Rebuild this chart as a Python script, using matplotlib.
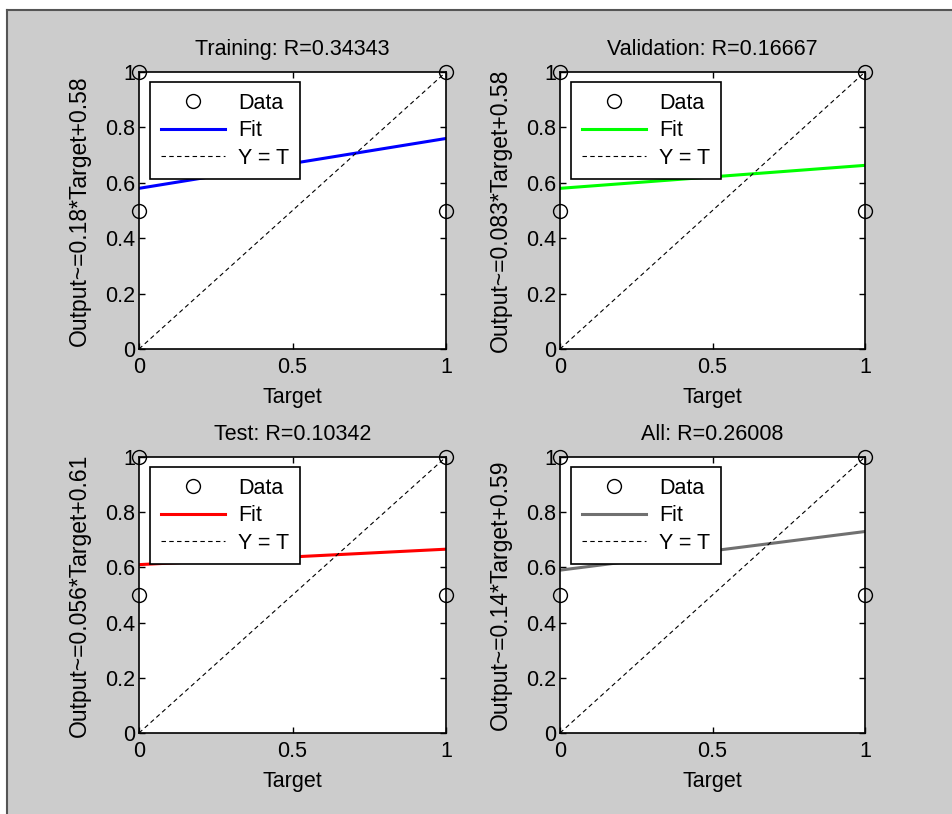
import matplotlib
matplotlib.use('Agg')
import matplotlib.pyplot as plt
import numpy as np

plt.rcParams['font.family'] = ['Liberation Sans', 'DejaVu Sans']

# regression panels: name, R value, fit slope/intercept, fit colour
names = ['Training', 'Validation', 'Test', 'All']
r_vals = ['0.34343', '0.16667', '0.10342', '0.26008']
slopes = [0.18, 0.083, 0.056, 0.14]
intercepts = [0.58, 0.58, 0.61, 0.59]
slope_lbl = ['0.18', '0.083', '0.056', '0.14']
icpt_lbl = ['0.58', '0.58', '0.61', '0.59']
colors = ['#0000ff', '#00ff00', '#ff0000', '#707070']

# targets / outputs (binary targets, outputs 0.5 or 1)
target = [0, 0, 1, 1]
output = [0.5, 1, 0.5, 1]

FS = 15.5

W, H = 952, 814
fig = plt.figure(figsize=(W / 100, H / 100), dpi=100)
fig.patch.set_facecolor('white')

# grey window panel with a dark frame on top/left
bg = plt.Rectangle((7 / W, 0), 1 - 7 / W, 1 - 10 / H, transform=fig.transFigure,
                   facecolor='#cccccc', edgecolor='none', zorder=-10)
fig.patches.append(bg)
fig.add_artist(plt.Line2D([7 / W, 7 / W], [0, 1 - 10 / H], color='#555555', lw=1.5,
                          transform=fig.transFigure))
fig.add_artist(plt.Line2D([7 / W, 1], [1 - 10 / H, 1 - 10 / H], color='#555555', lw=1.5,
                          transform=fig.transFigure))

boxes = [(139, 72, 446, 349), (560, 72, 865, 349),
         (139, 457, 446, 733), (560, 457, 865, 733)]

for i, (x0, y0, x1, y1) in enumerate(boxes):
    ax = fig.add_axes([x0 / W, 1 - y1 / H, (x1 - x0) / W, (y1 - y0) / H])
    ax.set_facecolor('white')
    xs = np.array([0, 1])
    ax.plot(target, output, 'o', mfc='none', mec='black', ms=10, mew=1.0,
            clip_on=False, zorder=5, label='Data')
    ax.plot(xs, slopes[i] * xs + intercepts[i], color=colors[i], lw=2.2, label='Fit')
    ax.plot(xs, xs, '--', color='black', lw=0.8, dashes=(4, 3), label='Y = T')
    ax.set_xlim(0, 1)
    ax.set_ylim(0, 1)
    ax.set_xticks([0, 0.5, 1])
    ax.set_xticklabels(['0', '0.5', '1'])
    ax.set_yticks([0, 0.2, 0.4, 0.6, 0.8, 1])
    ax.set_yticklabels(['0', '0.2', '0.4', '0.6', '0.8', '1'])
    ax.tick_params(direction='in', top=True, right=True, length=4, width=1,
                   labelsize=FS, pad=3)
    ax.tick_params(axis='x', pad=6)
    for s in ax.spines.values():
        s.set_linewidth(1.2)
    ax.set_title('%s: R=%s' % (names[i], r_vals[i]), fontsize=FS, pad=12)
    ax.set_xlabel('Target', fontsize=FS, labelpad=6)
    ax.set_ylabel('Output~=%s*Target+%s' % (slope_lbl[i], icpt_lbl[i]), fontsize=16.5,
                  labelpad=10)
    leg = ax.legend(loc='upper left', bbox_to_anchor=(11 / (x1 - x0), 1 - 10 / (y1 - y0)),
                    fontsize=FS, fancybox=False, framealpha=1, edgecolor='black',
                    handlelength=3.0, handletextpad=0.6, borderpad=0.5,
                    labelspacing=0.3, borderaxespad=0)
    leg.get_frame().set_linewidth(1.2)
    leg.set_zorder(10)

fig.savefig('out.png', dpi=100, facecolor=fig.get_facecolor())
